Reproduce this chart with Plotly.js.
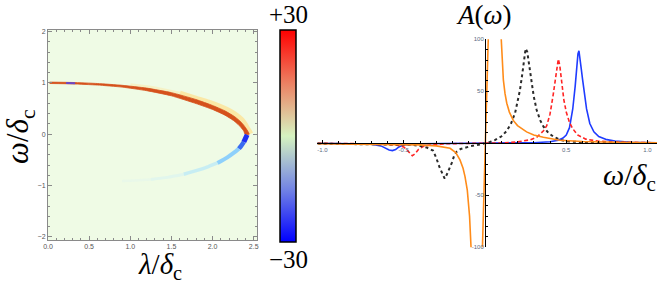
<!DOCTYPE html>
<html><head><meta charset="utf-8">
<script src="https://cdn.plot.ly/plotly-3.0.1.min.js"></script>
<style>html,body{margin:0;padding:0;background:#fff}#c{width:657px;height:285px}</style>
</head><body><div id="c"></div>
<script>
// ---- left panel: spectral band (edges of the bright band) ----
const bandOuterLam = [0.02,0.3,0.6,0.9,1.2,1.5,1.8,2.0,2.15,2.27,2.35,2.40,2.435,2.445];
const bandOuterOm  = [1.015,1.008,0.988,0.953,0.898,0.81,0.675,0.56,0.455,0.34,0.23,0.13,0.04,0.0];
const bandInnerLam = [0.02,0.3,0.6,0.9,1.2,1.5,1.8,2.0,2.15,2.25,2.31,2.35,2.38,2.395];
const bandInnerOm  = [0.988,0.98,0.958,0.918,0.848,0.748,0.597,0.482,0.372,0.272,0.192,0.122,0.06,0.0];
const haloLam  = [1.0,1.2,1.4,1.6,1.8,1.95,2.1,2.2,2.29,2.35,2.39,2.42,2.445,2.455];
const haloOm   = [0.945,0.905,0.85,0.78,0.68,0.605,0.515,0.44,0.35,0.265,0.175,0.09,0.03,0.0];
const lowerLam = [2.42,2.40,2.38,2.35,2.32,2.26,2.18,2.06,1.95,1.8,1.65,1.45,1.25,1.05,0.9];
const lowerOm  = [-0.01,-0.08,-0.15,-0.22,-0.28,-0.36,-0.45,-0.56,-0.63,-0.71,-0.78,-0.84,-0.88,-0.9,-0.91];
const streakLam = [0.22,0.33];
const streakOm  = [0.998,0.994];
const cbMin = -30, cbMax = 30;
const xTickL = [0,0.5,1,1.5,2,2.5], xTickLText = ['0.0','0.5','1.0','1.5','2.0','2.5'];
const yTickL = [-2,-1,0,1,2], yTickLText = ['\u22122','\u22121','0','1','2'];

// ---- right panel: A(omega) curves ----
const blueW = [-1.03,-0.8,-0.7,-0.64,-0.61,-0.59,-0.57,-0.55,-0.53,-0.5,-0.4,-0.2,0,0.2,0.3,0.4,0.45,0.48,0.5,0.52,0.54,0.555,0.565,0.572,0.578,0.585,0.592,0.6,0.61,0.625,0.645,0.67,0.7,0.75,0.8,0.9,1.06];
const blueA = [0,-0.3,-0.8,-2.5,-5,-6.5,-7,-6,-3.5,-1.5,-0.4,-0.1,0,0.3,0.6,1.5,3,5,8,15,33,55,75,86,89,82,72,62,50,33,19,11,6.5,3.5,2.2,1,0.4];
const redW = [-1.03,-0.7,-0.55,-0.5,-0.48,-0.46,-0.447,-0.43,-0.41,-0.38,-0.33,-0.25,-0.1,0,0.1,0.2,0.28,0.32,0.36,0.38,0.4,0.42,0.435,0.445,0.451,0.46,0.47,0.485,0.5,0.52,0.54,0.57,0.62,0.7,0.8,1.06];
const redA = [0,-0.5,-1.5,-3.5,-6.5,-10.5,-12,-10,-6,-3,-1.3,-0.5,-0.1,0,0.4,1.3,3.5,6,12,17,28,47,66,78,81,75,63,42,30,20,14,8,4,2,1.2,0.5];
const blackW = [-1.03,-0.6,-0.45,-0.4,-0.36,-0.32,-0.3,-0.28,-0.26,-0.248,-0.235,-0.22,-0.205,-0.19,-0.174,-0.15,-0.12,-0.09,-0.05,-0.02,0,0.03,0.06,0.1,0.134,0.16,0.185,0.2,0.215,0.228,0.24,0.25,0.26,0.272,0.287,0.3,0.318,0.34,0.36,0.39,0.42,0.46,0.5,0.6,0.8,1.06];
const blackA = [-0.3,-0.8,-1.5,-2.5,-4,-7,-14,-23,-31,-34,-30,-25,-19,-12,-8,-5.5,-3.8,-2.8,-1.8,-0.8,0,1.2,3,6.5,12,19,29,39,51,65,80,91,88,74,58,45,32,22,16,10,6.5,3.5,2,1,0.5,0.2];
const orangeW = [-1.03,-0.6,-0.4,-0.3,-0.25,-0.215,-0.18,-0.154,-0.135,-0.123,-0.109,-0.095,-0.086,-0.075,-0.05,-0.03,-0.017,-0.008,0,0.008,0.015,0.02,0.03,0.05,0.07,0.09,0.098,0.105,0.113,0.123,0.134,0.15,0.174,0.2,0.256,0.3,0.359,0.46,0.6,0.8,1.06];
const orangeA = [-0.3,-0.8,-1.5,-2.5,-3.5,-4.8,-9,-16,-24,-32,-45,-70,-100,-140,-250,-180,-100,-50,0,45,80,100,160,280,250,130,100,78,61,48,38.5,30,22,17,11,8,5.8,3,1.8,1,0.5];
const xTickR = [-1,-0.5,0.5,1], xTickRText = ['-1.0','-0.5','0.5','1.0'];
const yTickR = [-100,-50,50,100], yTickRText = ['-100','-50','50','100'];

const W = 657, H = 285;
const px = v => v / W, py = v => 1 - v / H;

function seg(xs, ys, a, b, color, width, opacity) {
  return {x: xs.slice(a, b + 1), y: ys.slice(a, b + 1), type: 'scatter', mode: 'lines',
    xaxis: 'x', yaxis: 'y', hoverinfo: 'skip', showlegend: false, opacity: opacity,
    line: {color: color, width: width, shape: 'spline', smoothing: 0.6}};
}
const bandX = bandOuterLam.concat(bandInnerLam.slice().reverse());
const bandY = bandOuterOm.concat(bandInnerOm.slice().reverse());

const traces = [
  seg(haloLam, haloOm, 0, 3, 'rgba(255,228,150,0.4)', 5, 1),
  seg(haloLam, haloOm, 3, 13, 'rgba(255,224,140,0.7)', 7, 1),
  {x: bandX, y: bandY, type: 'scatter', mode: 'lines', fill: 'toself', fillcolor: '#d5511c',
   xaxis: 'x', yaxis: 'y', hoverinfo: 'skip', showlegend: false,
   line: {color: '#d5511c', width: 0.8, shape: 'spline', smoothing: 0.5}},
  seg(streakLam, streakOm, 0, 1, '#6a48c8', 2, 1),
  seg(lowerLam, lowerOm, 4, 7, '#7cc8ff', 4, 0.85),
  seg(lowerLam, lowerOm, 7, 10, '#a6e2ff', 3.5, 0.55),
  seg(lowerLam, lowerOm, 10, 12, '#bfeaff', 3, 0.3),
  seg(lowerLam, lowerOm, 12, 14, '#cdf0ff', 2.5, 0.18),
  seg(lowerLam, lowerOm, 2, 4, '#3a6cf0', 4.5, 1),
  seg(lowerLam, lowerOm, 0, 2, '#1d2ff2', 5, 1),
  {z: [[cbMin, cbMax]], x: [0, 1], y: [0], type: 'heatmap', xaxis: 'x3', yaxis: 'y3', hoverinfo: 'skip',
   zmin: cbMin, zmax: cbMax, showscale: true,
   colorscale: [[0,'rgb(0,0,255)'],[0.25,'rgb(115,132,228)'],[0.5,'rgb(214,243,192)'],[0.75,'rgb(236,128,98)'],[1,'rgb(255,0,0)']],
   colorbar: {x: px(279.5), xanchor: 'left', y: py(136), yanchor: 'middle',
     lenmode: 'pixels', len: 212, thicknessmode: 'pixels', thickness: 16,
     outlinecolor: '#000', outlinewidth: 1.5, showticklabels: false, ticks: '', xpad: 0, ypad: 0}},
  {x: blueW, y: blueA, type: 'scatter', mode: 'lines', xaxis: 'x2', yaxis: 'y2', showlegend: false,
   line: {color: '#1f3cff', width: 1.6}},
  {x: redW, y: redA, type: 'scatter', mode: 'lines', xaxis: 'x2', yaxis: 'y2', showlegend: false,
   line: {color: '#ff2424', width: 1.6, dash: '4px,2.5px'}},
  {x: blackW, y: blackA, type: 'scatter', mode: 'lines', xaxis: 'x2', yaxis: 'y2', showlegend: false,
   line: {color: '#2a2a2a', width: 2, dash: 'dot'}},
  {x: orangeW, y: orangeA, type: 'scatter', mode: 'lines', xaxis: 'x2', yaxis: 'y2', showlegend: false,
   line: {color: '#ff8c1a', width: 1.6}}
];

const tickFont = {family: 'Liberation Sans, Arial, sans-serif', size: 7, color: '#555'};
const serif = 'Liberation Serif, Times New Roman, serif';
const leftAxis = {showline: true, linecolor: '#8a8a8a', linewidth: 1, mirror: 'ticks', ticks: 'inside',
  ticklen: 4, tickcolor: '#8a8a8a', showgrid: false, zeroline: false, tickfont: tickFont};
function ann(text, x, y, size, extra) {
  return Object.assign({text: text, x: px(x), y: py(y), xref: 'paper', yref: 'paper', xanchor: 'center', yanchor: 'middle',
    showarrow: false, font: {family: serif, size: size, color: '#000'}}, extra || {});
}

const layout = {
  width: W, height: H, margin: {l: 0, r: 0, t: 0, b: 0}, paper_bgcolor: '#fff', plot_bgcolor: 'rgba(0,0,0,0)',
  showlegend: false,
  xaxis: Object.assign({}, leftAxis, {domain: [px(48), px(257)], range: [0, 2.54],
    tickvals: xTickL, ticktext: xTickLText, minor: {dtick: 0.1, ticks: 'inside', ticklen: 2, tickcolor: '#8a8a8a'}}),
  yaxis: Object.assign({}, leftAxis, {domain: [1 - 240 / H, 1 - 30 / H], range: [-2.06, 2.03],
    tickvals: yTickL, ticktext: yTickLText, minor: {dtick: 0.2, ticks: 'inside', ticklen: 2, tickcolor: '#8a8a8a'}}),
  xaxis2: {domain: [px(317), 1], range: [(317 - 485) / 162.5, (657 - 485) / 162.5], anchor: 'free', position: py(143.3),
    showline: true, linecolor: '#000', linewidth: 1, showgrid: false, zeroline: false,
    ticks: 'inside', ticklen: 3, tickcolor: '#000', tickvals: xTickR, ticktext: xTickRText,
    minor: {dtick: 0.1, ticks: 'inside', ticklen: 2, tickcolor: '#000'}, tickfont: {family: tickFont.family, size: 6, color: '#5a6a80'}},
  yaxis2: {domain: [1 - 247.3 / H, 1 - 39.3 / H], range: [-100, 100], anchor: 'free', position: px(485),
    showline: true, linecolor: '#000', linewidth: 1, showgrid: false, zeroline: false,
    ticks: 'inside', ticklen: 3, tickcolor: '#000', tickvals: yTickR, ticktext: yTickRText,
    minor: {dtick: 10, ticks: 'inside', ticklen: 2, tickcolor: '#000'}, tickfont: {family: tickFont.family, size: 6, color: '#5a6a80'}},
  xaxis3: {domain: [0, 0.01], range: [10, 11], visible: false, anchor: 'y3'},
  yaxis3: {domain: [0, 0.01], range: [10, 11], visible: false, anchor: 'x3'},
  shapes: [{type: 'rect', xref: 'x domain', yref: 'y domain', x0: 0, x1: 1, y0: 0, y1: 1,
    fillcolor: '#effbe5', line: {width: 0}, layer: 'below'}],
  annotations: [
    ann('+30', 288, 15, 25),
    ann('\u221230', 288, 259, 25),
    ann('<i>ω</i>/<i>δ</i><sub>c</sub>', 20, 137, 31, {textangle: -90}),
    ann('<i>λ</i>/<i>δ</i><sub>c</sub>', 160, 266, 29),
    ann('<i>A</i>(<i>ω</i>)', 484, 15, 27),
    ann('<i>ω</i>/<i>δ</i><sub>c</sub>', 629, 177, 30)
  ]
};
Plotly.newPlot('c', traces, layout, {staticPlot: true, displayModeBar: false});
</script></body></html>
